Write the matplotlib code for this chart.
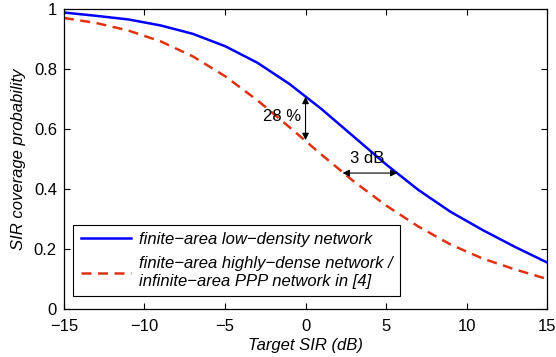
import numpy as np
import matplotlib
matplotlib.use("Agg")
import matplotlib.pyplot as plt

plt.rcParams['font.family'] = ['Liberation Sans', 'DejaVu Sans']

# целевой SIR, дБ
sir_db = [-15, -13, -11, -9, -7, -5, -3, -1, 1, 3, 5, 7, 9, 11, 13, 15]

# вероятность покрытия: конечная область, малая плотность
p_low = [0.988, 0.977, 0.965, 0.945, 0.917, 0.876, 0.821, 0.750,
         0.666, 0.574, 0.482, 0.397, 0.324, 0.263, 0.207, 0.155]

# конечная область высокой плотности / бесконечная PPP
p_dense = [0.970, 0.953, 0.928, 0.892, 0.842, 0.776, 0.696, 0.606,
           0.514, 0.425, 0.345, 0.275, 0.215, 0.168, 0.132, 0.100]

# точки для стрелок
gap_x = 0.0
gap_top = 0.707
gap_bottom = 0.563
shift_y = 0.453
shift_left = 2.3
shift_right = 5.7

labels = ["finite\u2212area low\u2212density network",
          "finite\u2212area highly\u2212dense network /\ninfinite\u2212area PPP network in [4]"]

fig = plt.figure(figsize=(5.56, 3.57), dpi=100)
ax = fig.add_axes([0.115, 0.1345, 0.869, 0.8405])

ax.plot(sir_db, p_low, color='#0000ff', lw=1.8, label=labels[0])
ax.plot(sir_db, p_dense, color='#dd3311', lw=1.8, linestyle=(0, (4, 2.6)), label=labels[1])

# стрелки: разница по вероятности и сдвиг по SIR
arrow = dict(arrowstyle='<|-|>', color='black', lw=0.8, mutation_scale=10, shrinkA=0, shrinkB=0)
ax.annotate('', xy=(gap_x, gap_top), xytext=(gap_x, gap_bottom), arrowprops=arrow)
ax.text(-0.25, 0.64, '28 %', ha='right', va='center', fontsize=12)

ax.annotate('', xy=(shift_left, shift_y), xytext=(shift_right, shift_y), arrowprops=arrow)
ax.text(3.8, 0.487, '3 dB', ha='center', va='baseline', fontsize=12)

ax.set_xlim(-15, 15)
ax.set_ylim(0, 1)
ax.set_xticks([-15, -10, -5, 0, 5, 10, 15])
ax.set_yticks([0, 0.2, 0.4, 0.6, 0.8, 1])
ax.set_yticklabels(['0', '0.2', '0.4', '0.6', '0.8', '1'])
ax.tick_params(direction='in', length=4, width=0.8, labelsize=12, top=True, right=True)
ax.tick_params(axis='x', pad=7)
ax.tick_params(axis='y', pad=5)
ax.get_yticklabels()[0].set_va('center_baseline')
for s in ax.spines.values():
    s.set_linewidth(0.9)

ax.set_xlabel('Target SIR (dB)', fontsize=12, style='italic', labelpad=3)
ax.set_ylabel('SIR coverage probability', fontsize=12, style='italic', labelpad=6)

leg = ax.legend(loc='lower left', bbox_to_anchor=(0.019, 0.043), borderaxespad=0,
                fancybox=False, edgecolor='black', framealpha=1, handlelength=3.0,
                prop={'style': 'italic', 'size': 12}, labelspacing=0.55, borderpad=0.45,
                handletextpad=0.5)
leg.get_frame().set_linewidth(0.8)

fig.savefig('out.png', dpi=100)
